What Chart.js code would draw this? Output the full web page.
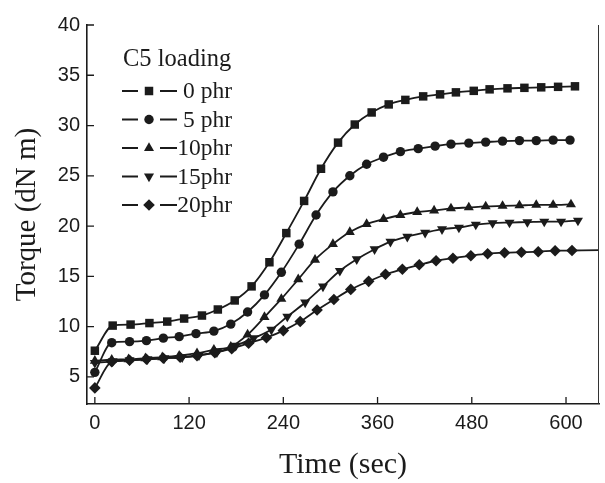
<!DOCTYPE html>
<html><head><meta charset="utf-8">
<script src="https://cdn.jsdelivr.net/npm/chart.js@4.4.0/dist/chart.umd.min.js"></script>
<style>html,body{margin:0;padding:0;background:#fff;}canvas{display:block;}</style>
</head><body>
<canvas id="c" width="605" height="483"></canvas>
<script>
const legendTitle = 'C5 loading';
const seriesLabels = ['0 phr', '5 phr', '10phr', '15phr', '20phr'];
const pointStyles = ['rect', 'circle', 'triangle', 'triangle', 'rectRot'];
const pointRotations = [0, 0, 0, 180, 0];

const time0 = [0, 22.7, 45.5, 69.5, 92.2, 113.7, 136.4, 156.6, 178.1, 199.6, 222.3, 243.8, 266.5, 288.0, 309.7, 331.0, 352.5, 374.2, 395.4, 418.1, 439.6, 459.8, 482.5, 502.7, 525.5, 547.0, 568.4, 589.9, 611.4];
const torque0 = [7.6, 10.1, 10.2, 10.35, 10.5, 10.8, 11.1, 11.7, 12.6, 14.0, 16.4, 19.3, 22.5, 25.7, 28.3, 30.1, 31.3, 32.1, 32.55, 32.9, 33.1, 33.3, 33.45, 33.6, 33.7, 33.75, 33.8, 33.85, 33.9];

const time5 = [0, 21.5, 44.2, 65.7, 87.2, 107.4, 128.8, 151.6, 173.1, 194.5, 216.0, 237.5, 260.2, 281.7, 303.2, 324.7, 346.1, 367.6, 389.1, 411.8, 433.3, 453.5, 476.2, 497.7, 519.2, 540.7, 562.1, 583.6, 605.1];
const torque5 = [5.45, 8.4, 8.5, 8.6, 8.85, 9.0, 9.3, 9.55, 10.25, 11.45, 13.15, 15.4, 18.2, 21.1, 23.4, 25.0, 26.15, 26.85, 27.4, 27.7, 27.95, 28.15, 28.25, 28.35, 28.45, 28.5, 28.5, 28.55, 28.55];

const time10 = [0, 21.5, 42.9, 64.4, 85.9, 107.4, 130.1, 151.6, 173.1, 194.5, 216.0, 237.5, 259.0, 280.4, 303.2, 324.7, 346.1, 367.6, 389.1, 410.5, 432.0, 453.5, 476.2, 497.7, 519.2, 540.7, 562.1, 583.6, 606.3];
const torque10 = [6.6, 6.7, 6.75, 6.85, 6.95, 7.1, 7.35, 7.7, 8.0, 9.2, 10.95, 12.75, 14.7, 16.65, 18.2, 19.4, 20.2, 20.7, 21.1, 21.4, 21.55, 21.75, 21.85, 21.95, 22.0, 22.05, 22.1, 22.1, 22.15];

const time15 = [0, 22.7, 44.2, 67.0, 88.4, 111.2, 132.6, 155.4, 179.4, 202.1, 224.8, 245.1, 267.8, 290.5, 312.0, 333.5, 356.2, 376.4, 397.9, 420.6, 442.1, 463.6, 485.1, 506.5, 528.0, 550.8, 572.3, 593.7, 615.2];
const torque15 = [6.4, 6.55, 6.65, 6.75, 6.85, 6.95, 7.15, 7.45, 8.1, 8.85, 9.7, 11.0, 12.4, 14.0, 15.55, 16.7, 17.7, 18.45, 18.95, 19.35, 19.7, 19.85, 20.15, 20.3, 20.35, 20.4, 20.45, 20.45, 20.55];

const time20 = [0, 21.5, 44.2, 65.7, 87.2, 108.6, 130.1, 152.8, 174.3, 195.8, 218.5, 240.0, 261.5, 283.0, 304.4, 325.9, 348.7, 370.1, 391.6, 413.1, 434.5, 456.0, 478.8, 500.2, 521.7, 543.2, 564.6, 586.1, 607.6, 642];
const torque20 = [3.9, 6.5, 6.65, 6.75, 6.85, 6.95, 7.1, 7.4, 7.8, 8.35, 8.9, 9.6, 10.5, 11.65, 12.7, 13.7, 14.5, 15.2, 15.7, 16.15, 16.55, 16.8, 17.05, 17.25, 17.35, 17.4, 17.45, 17.55, 17.57, 17.6];
const markedCount20 = 29;

const xTicks = [0, 120, 240, 360, 480, 600];
const yTicks = [5, 10, 15, 20, 25, 30, 35, 40];

const INK = '#1b1b1b';
const times = [time0, time5, time10, time15, time20];
const torques = [torque0, torque5, torque10, torque15, torque20];
const radii = [6, 4.7, 5.8, 5.8, 5.8];

const datasets = seriesLabels.map((lab, i) => ({
  label: lab,
  data: times[i].map((t, k) => ({x: t, y: torques[i][k]})),
  showLine: true,
  borderColor: INK,
  borderWidth: 1.8,
  backgroundColor: INK,
  pointBackgroundColor: INK,
  pointBorderWidth: 0,
  pointStyle: pointStyles[i],
  rotation: pointRotations[i],
  pointRadius: i === 4 ? times[i].map((t, k) => k < markedCount20 ? radii[i] : 0) : radii[i],
  cubicInterpolationMode: 'monotone'
}));

const framePlugin = {
  id: 'frame',
  afterDatasetsDraw(chart) {
    const {ctx, chartArea: a, scales} = chart;
    ctx.save();
    ctx.strokeStyle = '#333';
    ctx.lineWidth = 1;
    ctx.beginPath();
    ctx.moveTo(a.right - 0.5, a.top); ctx.lineTo(a.right - 0.5, a.bottom);
    ctx.stroke();
    ctx.strokeStyle = INK;
    ctx.lineWidth = 1.3;
    ctx.beginPath();
    xTicks.forEach(v => { const x = scales.x.getPixelForValue(v); ctx.moveTo(x, a.bottom); ctx.lineTo(x, a.bottom - 7); });
    yTicks.forEach(v => { const y = scales.y.getPixelForValue(v); ctx.moveTo(a.left, y); ctx.lineTo(a.left + 7, y); });
    ctx.stroke();
    ctx.restore();
  },
  afterDraw(chart) {
    const ctx = chart.ctx;
    ctx.save();
    ctx.fillStyle = INK;
    ctx.font = '24.5px "Liberation Serif"';
    ctx.textBaseline = 'middle';
    ctx.textAlign = 'left';
    ctx.fillText(legendTitle, 123, 60);
    ctx.font = '23.5px "Liberation Serif"';
    chart.data.datasets.forEach((ds, i) => {
      const y = 91 + 28.5 * i;
      ctx.strokeStyle = INK; ctx.lineWidth = 1.8;
      ctx.beginPath();
      ctx.moveTo(122, y); ctx.lineTo(138, y);
      ctx.moveTo(160, y); ctx.lineTo(177, y);
      ctx.stroke();
      ctx.fillStyle = INK;
      Chart.helpers.drawPoint(ctx, {pointStyle: ds.pointStyle, rotation: ds.rotation, radius: radii[i], borderWidth: 0}, 149, y);
      ctx.textAlign = 'right';
      ctx.fillText(ds.label, 232, y + 1);
    });
    ctx.restore();
  }
};

new Chart(document.getElementById('c'), {
  type: 'scatter',
  data: {datasets},
  options: {
    responsive: false,
    animation: false,
    devicePixelRatio: 1,
    layout: {padding: {top: 25, right: 2, left: 0, bottom: 0}},
    plugins: {legend: {display: false}, tooltip: {enabled: false}},
    scales: {
      x: {
        type: 'linear', min: -10, max: 642,
        afterBuildTicks: s => { s.ticks = xTicks.map(v => ({value: v})); },
        afterFit: s => { s.height = 79; },
        grid: {display: false, drawTicks: false},
        border: {display: true, color: INK, width: 1.6},
        ticks: {font: {family: 'Liberation Sans', size: 20}, color: INK, padding: 7, maxRotation: 0, autoSkip: false},
        title: {display: true, text: 'Time (sec)', font: {family: 'Liberation Serif', size: 30}, color: INK, padding: {top: 0, bottom: 0}}
      },
      y: {
        type: 'linear', min: 2.3, max: 40,
        afterBuildTicks: s => { s.ticks = yTicks.map(v => ({value: v})); },
        afterFit: s => { s.width = 87; },
        grid: {display: false, drawTicks: false},
        border: {display: true, color: INK, width: 1.6},
        ticks: {font: {family: 'Liberation Sans', size: 20}, color: INK, padding: 7, autoSkip: false},
        title: {display: true, text: 'Torque (dN m)', font: {family: 'Liberation Serif', size: 29}, color: INK, padding: {top: 10, bottom: 0}}
      }
    }
  },
  plugins: [framePlugin]
});
</script>
</body></html>
